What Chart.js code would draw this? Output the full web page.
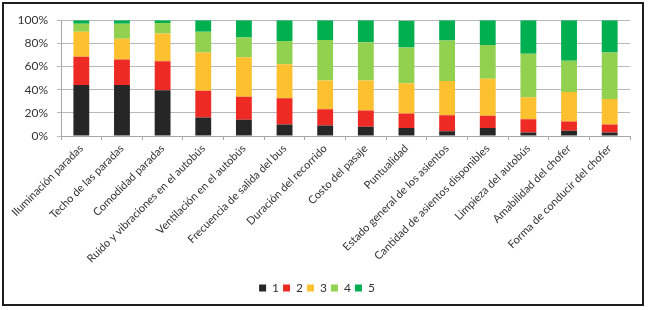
<!DOCTYPE html>
<html>
<head>
<meta charset="utf-8">
<script src="https://cdn.jsdelivr.net/npm/chart.js@4/dist/chart.umd.min.js"></script>
<style>
  html, body { margin: 0; padding: 0; background: #fff; }
  #frame {
    position: absolute; left: 2px; top: 2px;
    width: 638px; height: 300px;
    border: 2px solid #1e1e1e;
  }
  canvas { display: block; }
</style>
</head>
<body>
<div id="frame"><canvas id="chart" width="638" height="300"></canvas></div>
<script>
// categorías del eje x
const categories = [
  'Iluminación paradas', 'Techo de las paradas', 'Comodidad paradas',
  'Ruido y vibraciones en el autobús', 'Ventilación en el autobús',
  'Frecuencia de salida del bus', 'Duración del recorrido', 'Costo del pasaje',
  'Puntualidad', 'Estado general de los asientos',
  'Cantidad de asientos disponibles', 'Limpieza del autobús',
  'Amabilidad del chofer', 'Forma de conducir del chofer'
];

// porcentajes por calificación (1..5)
const score1 = [44, 44, 39.5, 16, 14, 10, 9, 8, 7, 4, 7, 3, 4.5, 3];
const score2 = [24.5, 22, 25, 23, 20, 22.5, 14, 14, 12.5, 14, 10.5, 11.5, 8, 7];
const score3 = [21.5, 18, 24, 33, 34, 29.5, 25, 26, 26, 29.5, 32, 19, 25.5, 22];
const score4 = [7, 13, 9, 18, 17, 20, 35, 33, 31, 35, 29, 37.5, 27, 40];
const score5 = [3, 3, 2.5, 10, 15, 18, 17, 19, 23, 17.5, 21.5, 29, 35, 28];

const seriesLabels = ['1', '2', '3', '4', '5'];
const seriesColors = ['#262626', '#ee2a24', '#fdc02f', '#92d050', '#00b050'];
const seriesData = [score1, score2, score3, score4, score5];

const yTicks = [0, 20, 40, 60, 80, 100];

const makeDataset = (label, data, color) => ({
  label: label,
  data: data,
  backgroundColor: color,
  borderWidth: 0,
  barPercentage: 0.39,
  categoryPercentage: 1.0
});

new Chart(document.getElementById('chart').getContext('2d'), {
  type: 'bar',
  data: {
    labels: categories,
    datasets: seriesLabels.map((l, i) => makeDataset(l, seriesData[i], seriesColors[i]))
  },
  options: {
    responsive: false,
    animation: false,
    layout: { padding: { left: 0, right: 12, top: 7, bottom: 0 } },
    plugins: {
      title: { display: false },
      tooltip: { enabled: false },
      legend: {
        display: true,
        position: 'bottom',
        labels: {
          boxWidth: 7, boxHeight: 7, padding: 4,
          color: '#333', font: { family: 'Lato', size: 12 }
        }
      }
    },
    scales: {
      x: {
        stacked: true,
        afterFit: (scale) => { scale.height = 142; },
        grid: {
          display: true, offset: true, drawOnChartArea: false,
          drawTicks: true, tickLength: 4, color: '#a6a6a6'
        },
        border: { display: true, color: '#a6a6a6' },
        ticks: {
          minRotation: 45, maxRotation: 45, autoSkip: false,
          padding: 2, color: '#333', font: { family: 'Lato', size: 11 }
        }
      },
      y: {
        stacked: true,
        min: 0, max: 100,
        afterBuildTicks: (axis) => { axis.ticks = yTicks.map(v => ({ value: v })); },
        afterFit: (scale) => { scale.width = 57; },
        grid: { color: '#b8b8b8', tickLength: 4 },
        border: { display: true, color: '#a6a6a6' },
        ticks: {
          padding: 9, color: '#333',
          font: { family: 'Lato', size: 12 },
          callback: (v) => v + '%'
        }
      }
    }
  }
});
</script>
</body>
</html>
